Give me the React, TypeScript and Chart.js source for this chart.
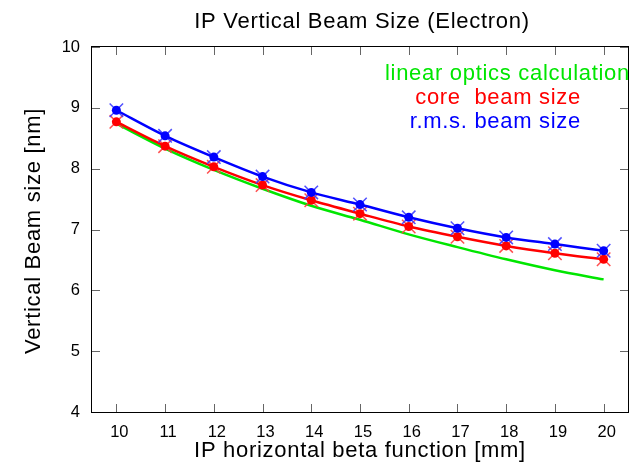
import { useEffect, useRef } from "react";
import { Chart, registerables } from "chart.js";

Chart.register(...registerables);

// IP horizontal beta function [mm]
const betaX = [10, 11, 12, 13, 14, 15, 16, 17, 18, 19, 20];
// Vertical beam size [nm]
const linearOptics = [8.74, 8.33, 7.98, 7.67, 7.39, 7.16, 6.92, 6.71, 6.51, 6.33, 6.18];
const coreSize = [8.77, 8.37, 8.03, 7.73, 7.48, 7.26, 7.05, 6.88, 6.73, 6.61, 6.51];
const rmsSize = [8.96, 8.54, 8.19, 7.87, 7.61, 7.41, 7.2, 7.02, 6.87, 6.76, 6.65];

const xTicks = [10, 11, 12, 13, 14, 15, 16, 17, 18, 19, 20];
const yTicks = [4, 5, 6, 7, 8, 9, 10];

const titleText = "IP Vertical Beam Size (Electron)";
const xTitle = "IP horizontal beta function [mm]";
const yTitle = "Vertical Beam size [nm]";
const labelLinear = "linear optics calculation";
const labelCore = "core  beam size";
const labelRms = "r.m.s. beam size";

const GREEN = "#00e600";
const RED = "#ff0000";
const BLUE = "#0000ff";

const TEXT_FONT = '22px "Liberation Sans", Arial, sans-serif';

const pts = (ys: number[]) => betaX.map((x, i) => ({ x, y: ys[i] }));

const framePlugin = {
  id: "gnuFrame",
  beforeDatasetsDraw(chart: any) {
    const { ctx, chartArea: a, scales } = chart;
    const xs = scales.x;
    const ys = scales.y;
    ctx.save();
    ctx.lineWidth = 1;
    ctx.strokeStyle = "#666666";
    ctx.beginPath();
    for (const v of xTicks) {
      const px = Math.round(xs.getPixelForValue(v)) + 0.5;
      ctx.moveTo(px, a.bottom);
      ctx.lineTo(px, a.bottom - 8);
      ctx.moveTo(px, a.top);
      ctx.lineTo(px, a.top + 8);
    }
    for (const v of yTicks) {
      const py = Math.round(ys.getPixelForValue(v)) + 0.5;
      ctx.moveTo(a.left, py);
      ctx.lineTo(a.left + 8, py);
      ctx.moveTo(a.right, py);
      ctx.lineTo(a.right - 8, py);
    }
    ctx.stroke();
    ctx.strokeStyle = "#000000";
    ctx.strokeRect(a.left - 0.5, a.top - 0.5, a.right - a.left + 1, a.bottom - a.top + 1);
    ctx.restore();
  },
  afterDraw(chart: any) {
    const { ctx, chartArea: a } = chart;
    const cx = (a.left + a.right) / 2;
    ctx.save();
    ctx.font = TEXT_FONT;
    (ctx as any).letterSpacing = "0.7px";
    ctx.textBaseline = "alphabetic";

    ctx.fillStyle = "#000000";
    ctx.textAlign = "center";
    ctx.fillText(titleText, cx + 2, 27.5);
    ctx.fillText(xTitle, cx, 457);

    ctx.save();
    ctx.translate(40, (a.top + a.bottom) / 2 + 1.5);
    ctx.rotate(-Math.PI / 2);
    ctx.fillText(yTitle, 0, 0);
    ctx.restore();

    ctx.textAlign = "left";
    ctx.fillStyle = GREEN;
    ctx.fillText(labelLinear, 385, 79.5);
    ctx.textAlign = "right";
    ctx.fillStyle = RED;
    ctx.fillText(labelCore, 581, 103.5);
    ctx.fillStyle = BLUE;
    ctx.fillText(labelRms, 581, 127.5);
    ctx.restore();
  },
};

export default function App() {
  const canvasRef = useRef<HTMLCanvasElement | null>(null);

  useEffect(() => {
    const canvas = canvasRef.current;
    if (!canvas) return;

    const tickFont = { family: '"Liberation Sans", Arial, sans-serif', size: 16.5 };

    const chart = new Chart(canvas, {
      type: "line",
      data: {
        datasets: [
          {
            label: "rms",
            data: pts(rmsSize),
            borderColor: BLUE,
            backgroundColor: BLUE,
            borderWidth: 2.5,
            pointRadius: 4.5,
            pointBorderWidth: 0,
            pointStyle: "circle",
            tension: 0.3,
          },
          {
            label: "rms-x",
            data: pts(rmsSize),
            showLine: false,
            borderColor: "rgba(60,60,255,0.9)",
            backgroundColor: "transparent",
            pointStyle: "crossRot",
            pointRadius: 9.5,
            pointBorderWidth: 1.5,
          },
          {
            label: "core",
            data: pts(coreSize),
            borderColor: RED,
            backgroundColor: RED,
            borderWidth: 2.5,
            pointRadius: 4.5,
            pointBorderWidth: 0,
            pointStyle: "circle",
            tension: 0.3,
          },
          {
            label: "core-x",
            data: pts(coreSize),
            showLine: false,
            borderColor: "rgba(255,60,60,0.9)",
            backgroundColor: "transparent",
            pointStyle: "crossRot",
            pointRadius: 9.5,
            pointBorderWidth: 1.5,
          },
          {
            label: "linear",
            data: pts(linearOptics),
            borderColor: GREEN,
            borderWidth: 2.5,
            pointRadius: 0,
            tension: 0.4,
            cubicInterpolationMode: "monotone",
          },
        ],
      },
      options: {
        animation: false,
        responsive: true,
        maintainAspectRatio: false,
        devicePixelRatio: 1,
        layout: { autoPadding: false, padding: { top: 47, right: 1, left: 0, bottom: 0 } },
        plugins: {
          legend: { display: false },
          title: { display: false },
          tooltip: { enabled: false },
        },
        scales: {
          x: {
            type: "linear",
            min: 9.5,
            max: 20.5,
            grid: { display: false, drawTicks: false },
            border: { display: false },
            afterBuildTicks: (s: any) => {
              s.ticks = xTicks.map((v) => ({ value: v }));
            },
            afterFit: (s: any) => {
              s.height = 60;
              s.paddingLeft = 0;
              s.paddingRight = 0;
            },
            ticks: {
              color: "#000000",
              font: tickFont,
              padding: 11,
              labelOffset: 3,
              maxRotation: 0,
              autoSkip: false,
              callback: (v: any) => String(v),
            },
          },
          y: {
            type: "linear",
            min: 4,
            max: 10,
            grid: { display: false, drawTicks: false },
            border: { display: false },
            afterBuildTicks: (s: any) => {
              s.ticks = yTicks.map((v) => ({ value: v }));
            },
            afterFit: (s: any) => {
              s.width = 92;
              s.paddingTop = 0;
              s.paddingBottom = 0;
            },
            ticks: {
              color: "#000000",
              font: tickFont,
              padding: 12,
              autoSkip: false,
              callback: (v: any) => String(v),
            },
          },
        },
      },
      plugins: [framePlugin],
    } as any);

    return () => chart.destroy();
  }, []);

  return (
    <div style={{ position: "fixed", left: 0, top: 0, width: 629, height: 472, background: "#ffffff" }}>
      <canvas ref={canvasRef} />
    </div>
  );
}
